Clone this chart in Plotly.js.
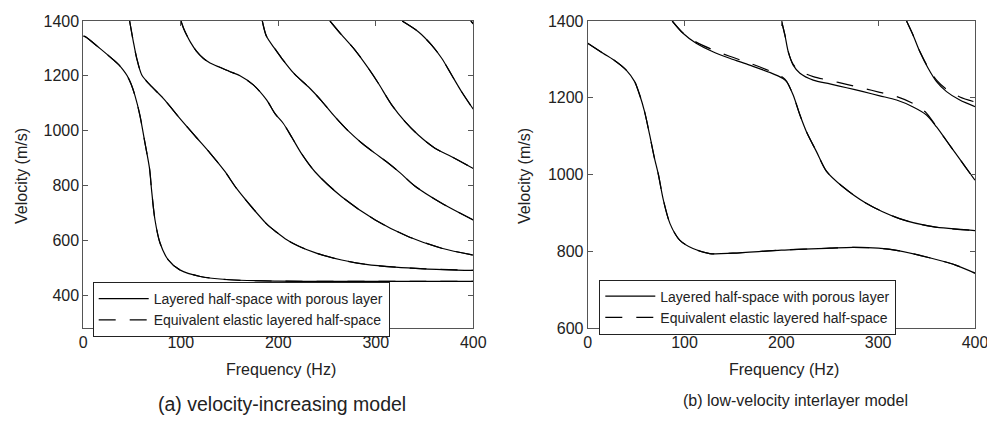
<!DOCTYPE html>
<html>
<head>
<meta charset="utf-8">
<script src="https://cdn.plot.ly/plotly-3.0.1.min.js"></script>
<style>html,body{margin:0;padding:0;background:#fff}#chart{width:987px;height:421px}</style>
</head>
<body>
<div id="chart"></div>
<script>
// ---------- (a) velocity-increasing model ----------
const a1x = [0, 2, 17, 31, 36, 41, 45, 49, 53, 58, 63, 68, 70, 73.5, 78.7, 87, 99, 120, 150, 200, 250, 300, 350, 400];
const a1y = [1345, 1343, 1300, 1258, 1242, 1221, 1200, 1170, 1128, 1057, 960, 860, 784, 675, 590, 529, 492, 468, 456, 451, 450, 450, 450, 450];
const a2x = [47.5, 51.3, 54.8, 60, 68.4, 82, 99, 116, 130, 145, 157, 174, 188, 198, 207, 220, 239, 265, 290, 320, 350, 400];
const a2y = [1400, 1325, 1264, 1203, 1167, 1118, 1045, 975, 918, 852, 790, 716, 660, 630, 606, 580, 553, 528, 512, 502, 496, 490];
const a3x = [100.2, 103, 106, 110, 116, 123, 130, 140, 150, 160.7, 174.4, 188, 196.6, 205, 214, 224, 237.6, 265, 299, 333, 367.6, 400];
const a3y = [1400, 1372, 1349, 1322, 1290, 1264, 1247, 1231, 1216, 1200, 1167, 1112, 1062, 1027, 975, 915, 850, 759, 675, 614, 571, 546];
const a4x = [183.6, 188, 196.6, 203.5, 217, 230.8, 244.5, 258, 272, 285.5, 299, 313, 325, 340, 367.6, 400];
const a4y = [1400, 1343, 1298, 1264, 1205, 1160, 1108, 1051, 998, 955, 918, 881, 846, 798, 735, 674];
const a5x = [253, 265, 278.7, 292.3, 302.6, 316.3, 330, 343.6, 360.7, 377.8, 400];
const a5y = [1400, 1349, 1294, 1228, 1173, 1094, 1033, 984, 936, 905, 862];
const a6x = [327, 343.6, 357.3, 367.6, 377.8, 388, 400];
const a6y = [1400, 1361, 1312, 1264, 1203, 1142, 1078];
const a7x = [397.5, 400];
const a7y = [1400, 1390];
// equivalent elastic model (coincides with the porous model in (a))
const a1yEq = [1345, 1343, 1300, 1258, 1242, 1221, 1200, 1170, 1128, 1057, 960, 860, 784, 675, 590, 529, 492, 468, 456, 451, 450, 450, 450, 450];
const a2yEq = [1400, 1325, 1264, 1203, 1167, 1118, 1045, 975, 918, 852, 790, 716, 660, 630, 606, 580, 553, 528, 512, 502, 496, 490];
const a3yEq = [1400, 1372, 1349, 1322, 1290, 1264, 1247, 1231, 1216, 1200, 1167, 1112, 1062, 1027, 975, 915, 850, 759, 675, 614, 571, 546];
const a4yEq = [1400, 1343, 1298, 1264, 1205, 1160, 1108, 1051, 998, 955, 918, 881, 846, 798, 735, 674];
const a5yEq = [1400, 1349, 1294, 1228, 1173, 1094, 1033, 984, 936, 905, 862];
const a6yEq = [1400, 1361, 1312, 1264, 1203, 1142, 1078];
const a7yEq = [1400, 1390];

// ---------- (b) low-velocity interlayer model ----------
const b1x = [0, 15.8, 29.5, 39.8, 48.5, 53.7, 58.8, 64, 69, 73, 78, 85, 95, 108.7, 126, 150, 200, 250, 274, 300, 322, 356, 380, 400];
const b1y = [1342, 1316, 1294, 1272, 1242, 1207, 1163, 1103, 1042, 1000, 935, 872, 829, 807, 794, 795, 803, 808, 810, 808, 801, 781, 764, 743];
const b2x = [87.3, 98.4, 112, 129.3, 146.6, 167.2, 188, 201.6, 205.4, 212.2, 219.2, 226, 236.4, 246.5, 263.5, 287.6, 322, 356.4, 400];
const b2y = [1400, 1368, 1342, 1320, 1303, 1285, 1266, 1250, 1242, 1207, 1155, 1111, 1059, 1009, 968, 925, 885, 864, 854];
const b3x = [200.2, 203.7, 207.1, 212.2, 219.2, 232.9, 250.1, 267.4, 284.5, 301.7, 319, 336.1, 349.9, 360.3, 370.6, 380, 390, 400];
const b3y = [1400, 1363, 1320, 1285, 1264, 1246, 1236, 1226, 1216, 1205, 1194, 1176, 1155, 1124, 1088, 1055, 1020, 985];
const b4x = [329.3, 336.1, 343, 351.6, 360.3, 370.6, 384.3, 400];
const b4y = [1400, 1363, 1320, 1277, 1242, 1216, 1194, 1177];
const b1yEq = [1342, 1316, 1294, 1272, 1242, 1207, 1163, 1103, 1042, 1000, 935, 872, 829, 807, 794, 795, 803, 808, 810, 808, 801, 781, 764, 743];
const b2yEq = [1400, 1369, 1345, 1325, 1308, 1290, 1270, 1253, 1243, 1207, 1155, 1111, 1059, 1009, 968, 925, 885, 864, 854];
const b3yEq = [1400, 1363, 1320, 1287, 1270, 1255, 1245, 1235, 1225, 1214, 1203, 1185, 1160, 1124, 1088, 1055, 1020, 985];
const b4yEq = [1400, 1363, 1321, 1279, 1246, 1222, 1202, 1189];

const legendNames = ["Layered half-space with porous layer", "Equivalent elastic layered half-space"];
const xTicks = [0, 100, 200, 300, 400];
const yTicksA = [400, 600, 800, 1000, 1200, 1400];
const yTicksB = [600, 800, 1000, 1200, 1400];

const FONT = "Liberation Sans, Arial, Helvetica, sans-serif";
const solid = {color: "#000", width: 1.2, shape: "spline", smoothing: 0.8};
const dashed = {color: "#000", width: 1.2, shape: "spline", smoothing: 0.8, dash: "17px,14px"};

function tr(x, y, line, xa, ya, leg, name, show) {
  return {x: x, y: y, type: "scatter", mode: "lines", line: line, xaxis: xa, yaxis: ya,
          legend: leg, name: name, showlegend: show, hoverinfo: "skip"};
}

const data = [];
const A = [[a1x, a1y, a1yEq], [a2x, a2y, a2yEq], [a3x, a3y, a3yEq], [a4x, a4y, a4yEq], [a5x, a5y, a5yEq], [a6x, a6y, a6yEq], [a7x, a7y, a7yEq]];
const B = [[b1x, b1y, b1yEq], [b2x, b2y, b2yEq], [b3x, b3y, b3yEq], [b4x, b4y, b4yEq]];
A.forEach((c, i) => data.push(tr(c[0], c[2], dashed, "x", "y", "legend", legendNames[1], i === 0)));
A.forEach((c, i) => data.push(tr(c[0], c[1], solid, "x", "y", "legend", legendNames[0], i === 0)));
B.forEach((c, i) => data.push(tr(c[0], c[2], dashed, "x2", "y2", "legend2", legendNames[1], i === 0)));
B.forEach((c, i) => data.push(tr(c[0], c[1], solid, "x2", "y2", "legend2", legendNames[0], i === 0)));

const W = 987, H = 421;
const axBase = {
  showline: true, linecolor: "#555", linewidth: 1, mirror: "ticks",
  ticks: "inside", ticklen: 5, tickcolor: "#555", tickwidth: 1,
  showgrid: false, zeroline: false, fixedrange: true, ticklabeloverflow: "allow",
  tickfont: {family: FONT, size: 16, color: "#222"}
};
const yDom = [1 - 328 / H, 1 - 21 / H];
const layout = {
  width: W, height: H, margin: {l: 0, r: 0, t: 0, b: 0},
  paper_bgcolor: "#fff", plot_bgcolor: "#fff",
  font: {family: FONT, color: "#222"},
  xaxis: Object.assign({}, axBase, {domain: [83.3 / W, 473.3 / W], range: [0, 400], tickvals: xTicks, anchor: "y"}),
  yaxis: Object.assign({}, axBase, {domain: yDom, range: [280, 1400], tickvals: yTicksA, anchor: "x"}),
  xaxis2: Object.assign({}, axBase, {domain: [587.7 / W, 975 / W], range: [0, 400], tickvals: xTicks, anchor: "y2"}),
  yaxis2: Object.assign({}, axBase, {domain: yDom, range: [600, 1400], tickvals: yTicksB, anchor: "x2"}),
  legend: {x: 92.7 / W, y: 1 - 282 / H, xanchor: "left", yanchor: "top", bgcolor: "#fff",
           bordercolor: "#222", borderwidth: 1, itemwidth: 50, traceorder: "reversed",
           font: {family: FONT, size: 14, color: "#222"}, tracegroupgap: 0},
  legend2: {x: 599.3 / W, y: 1 - 279.5 / H, xanchor: "left", yanchor: "top", bgcolor: "#fff",
            bordercolor: "#222", borderwidth: 1, itemwidth: 50, traceorder: "reversed",
            font: {family: FONT, size: 14, color: "#222"}, tracegroupgap: 0},
  annotations: [
    {text: "Velocity (m/s)", x: 21 / W, y: 1 - 176 / H, textangle: -90},
    {text: "Velocity (m/s)", x: 524 / W, y: 1 - 176 / H, textangle: -90},
    {text: "Frequency (Hz)", x: 281 / W, y: 1 - 369 / H},
    {text: "Frequency (Hz)", x: 783.5 / W, y: 1 - 369 / H},
    {text: "(a) velocity-increasing model", x: 282 / W, y: 1 - 404 / H, font: {family: FONT, size: 19.5, color: "#222"}},
    {text: "(b) low-velocity interlayer model", x: 795 / W, y: 1 - 400 / H, font: {family: FONT, size: 16, color: "#222"}}
  ].map(a => Object.assign({xref: "paper", yref: "paper", xanchor: "center", yanchor: "middle", showarrow: false,
                           font: {family: FONT, size: 16, color: "#222"}}, a))
};
Plotly.newPlot("chart", data, layout, {displayModeBar: false, staticPlot: true});
</script>
</body>
</html>
